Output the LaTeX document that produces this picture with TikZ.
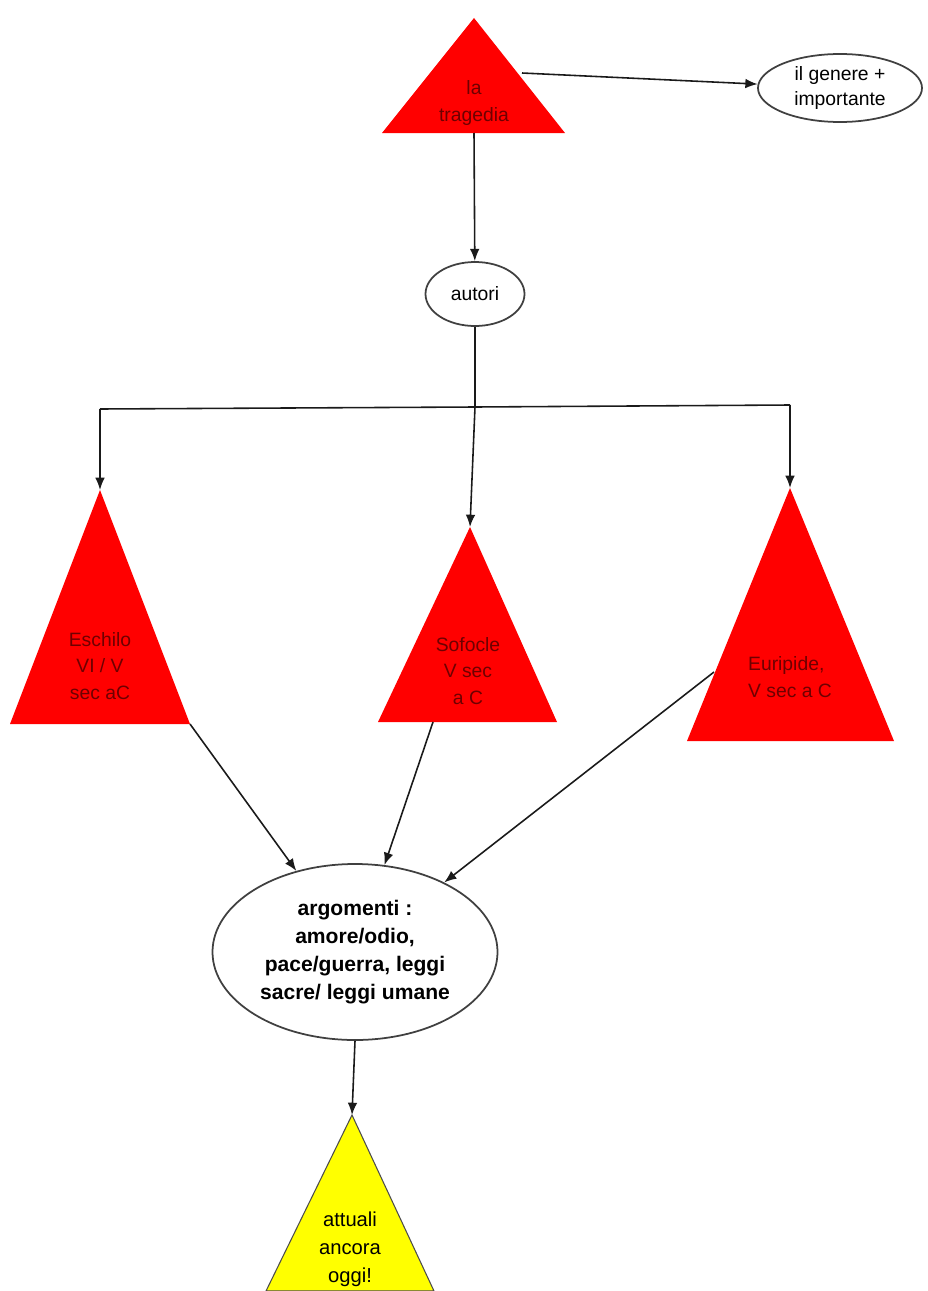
\documentclass[tikz,border=0pt]{standalone}
\usepackage{fontspec}
\setmainfont{Liberation Sans}
\usetikzlibrary{arrows.meta,shapes.geometric}
\definecolor{tri}{HTML}{FF0000}
\definecolor{trtext}{HTML}{6E0000}
\definecolor{yel}{HTML}{FFFF00}
\definecolor{ln}{HTML}{1A1A1A}
\tikzset{
  tribox/.style={fill=tri},
  yelbox/.style={fill=yel,draw=black!70,line width=0.6pt},
  ell/.style={ellipse,draw=black!75,line width=1pt,inner sep=0pt},
  trtxt/.style={align=center,text=trtext,font=\fontsize{11}{15}\selectfont},
  etxt/.style={align=center,font=\fontsize{11}{14.5}\selectfont},
  conn/.style={draw=ln,line width=0.9pt},
  arr/.style={conn,-{Latex[length=7pt,width=5.5pt]}}
}
\begin{document}
\begin{tikzpicture}[x=0.02cm,y=-0.02cm]
\useasboundingbox (0,0) rectangle (928,1291);
% triangles
\fill[tribox] (474,18) coordinate (trag-top) -- (565,133) -- (382,133) -- cycle;
\coordinate (trag-r) at (522,73);
\coordinate (trag-b) at (474,133);
\node[trtxt] (trag) at (474,103) {la\\tragedia};

\fill[tribox] (100,490) coordinate (esch-top) -- (190,724) coordinate (esch-c) -- (10,724) -- cycle;
\node[trtxt] (esch) at (100,666) {Eschilo\\VI / V\\sec aC};

\fill[tribox] (470,527) coordinate (sof-top) -- (557,722) -- (378,722) -- cycle;
\coordinate (sof-b) at (433,722);
\node[trtxt] (sof) at (468,671) {Sofocle\\V sec\\ a C};

\fill[tribox] (790,488) coordinate (eur-top) -- (894,741) -- (687,741) -- cycle;
\coordinate (eur-l) at (714,672);
\node[trtxt,align=left] (eur) at (790,677) {Euripide,\\V sec a C};

\filldraw[yelbox] (352,1115) coordinate (att-top) -- (434,1291) -- (266,1291) -- cycle;
\node[etxt,font=\fontsize{11.5}{16}\selectfont] (att) at (350,1249) {attuali\\ancora\\oggi!};

% ellipses
\node[ell,minimum width=164*0.02cm,minimum height=68*0.02cm] (genere) at (840,88) {};
\node[etxt] at (genere) {il genere +\\importante};
\node[ell,minimum width=99*0.02cm,minimum height=64*0.02cm] (autori) at (475,294) {};
\node[etxt] at (autori) {autori};
\node[ell,minimum width=285*0.02cm,minimum height=176*0.02cm] (argomenti) at (355,952) {};
\node[etxt,font=\bfseries\fontsize{12}{16}\selectfont] at (argomenti) {argomenti :\\amore/odio,\\pace/guerra, leggi\\sacre/ leggi umane};

% connectors
\draw[arr] (trag-r) -- (genere);
\draw[arr] (trag-b) -- (autori);
\coordinate (bus) at (475,407);
\coordinate (bus-l) at (100,409);
\coordinate (bus-r) at (790,405);
\draw[conn] (autori.south) -- (bus);
\draw[conn] (bus-l) -- (bus) -- (bus-r);
\draw[arr] (bus-l) -- (esch-top);
\draw[arr] (bus) -- (sof-top);
\draw[arr] (bus-r) -- (eur-top);
\draw[arr] (esch-c) -- (argomenti);
\draw[arr] (sof-b) -- (argomenti);
\draw[arr] (eur-l) -- (argomenti);
\draw[arr] (argomenti.south) -- (att-top);
\end{tikzpicture}
\end{document}
